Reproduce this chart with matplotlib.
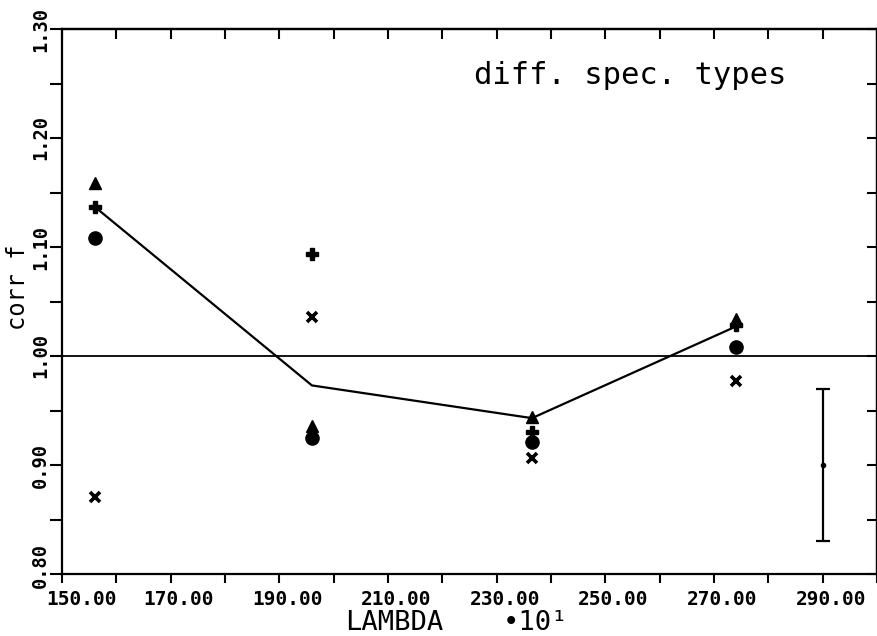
import matplotlib
matplotlib.use("Agg")
import matplotlib.pyplot as plt
import matplotlib.transforms as mtransforms

# ---- data ----
wavelength = [156, 196, 236.5, 274]
tri_vals = [1.159, 0.936, 0.944, 1.034]
plus_vals = [1.137, 1.094, 0.930, 1.028]
circ_vals = [1.108, 0.925, 0.921, 1.008]
cross_vals = [0.871, 1.036, 0.906, 0.977]

line_x = [156, 196, 236.5, 274]
line_y = [1.137, 0.973, 0.943, 1.027]

err_x = [290]
err_y = [0.90]
err_size = [0.07]

xtick_major = [150, 170, 190, 210, 230, 250, 270, 290]
xtick_labels = ["150.00", "170.00", "190.00", "210.00", "230.00", "250.00", "270.00", "290.00"]
xtick_minor = [160, 180, 200, 220, 240, 260, 280, 300]
ytick_major = [0.80, 0.90, 1.00, 1.10, 1.20, 1.30]
ytick_labels = ["0.80", "0.90", "1.00", "1.10", "1.20", "1.30"]
ytick_minor = [0.85, 0.95, 1.05, 1.15, 1.25]

W, H = 878, 636
fig = plt.figure(figsize=(W / 100, H / 100), dpi=100)
L, R, T, B = 62, 877, 29, 574
ax = fig.add_axes([L / W, (H - B) / H, (R - L) / W, (B - T) / H])

ax.set_xlim(150, 300)
ax.set_ylim(0.80, 1.30)

for s in ax.spines.values():
    s.set_linewidth(1.6)
    s.set_color("black")

mono = "DejaVu Sans Mono"

# reference line at 1.0
ax.axhline(1.0, color="black", lw=1.3, zorder=1)

# model line
ax.plot(line_x, line_y, color="black", lw=1.6, zorder=2)

# markers
ax.plot(wavelength, tri_vals, linestyle="none", marker="^", ms=8.5, color="black", zorder=3)
ax.plot(wavelength, plus_vals, linestyle="none", marker="P", ms=8.5, color="black", zorder=3)
ax.plot(wavelength, circ_vals, linestyle="none", marker="o", ms=9.5, color="black", zorder=3)
ax.plot(wavelength, cross_vals, linestyle="none", marker="x", ms=7, mew=2.6, color="black", zorder=3)

# error bar
ax.errorbar(err_x, err_y, yerr=err_size, fmt="o", ms=3, color="black",
            ecolor="black", elinewidth=1.6, capsize=5, capthick=1.6, zorder=3)

# ticks
ax.set_xticks(xtick_major)
ax.set_xticklabels(xtick_labels)
ax.set_xticks(xtick_minor, minor=True)
ax.set_yticks(ytick_major)
ax.set_yticklabels(ytick_labels)
ax.set_yticks(ytick_minor, minor=True)

ax.tick_params(axis="x", which="both", direction="out", length=6.5, width=1.5,
               top=False, pad=5)
ax.tick_params(axis="y", which="both", direction="out", length=8.5, width=1.5,
               right=False, pad=0)
ax.tick_params(axis="x", labelsize=14, labelfontfamily=mono)
ax.tick_params(axis="y", labelsize=13.5, labelfontfamily=mono, labelrotation=90)
for lab in ax.get_xticklabels() + ax.get_yticklabels():
    lab.set_fontweight("bold")
for lab in ax.get_yticklabels():
    lab.set_verticalalignment("center")

# shift tick labels slightly as in the reference
xl = ax.get_xticklabels()
for i, lab in enumerate(xl):
    dx = 20 if i == 0 else 8
    lab.set_transform(lab.get_transform() +
                      mtransforms.ScaledTranslation(dx / 100, 0, fig.dpi_scale_trans))
yl = ax.get_yticklabels()
yl[0].set_transform(yl[0].get_transform() +
                    mtransforms.ScaledTranslation(0, 9 / 100, fig.dpi_scale_trans))

# inward ticks on top and right
secx = ax.secondary_xaxis("top")
secx.set_xticks(xtick_major + xtick_minor)
secx.tick_params(direction="in", length=7, width=1.5, labeltop=False)
secx.spines["top"].set_linewidth(1.6)
secy = ax.secondary_yaxis("right")
secy.set_yticks(ytick_major + ytick_minor)
secy.tick_params(direction="in", length=7, width=1.5, labelright=False)
secy.spines["right"].set_linewidth(1.6)

# annotation
ax.text(254.5, 1.250, "diff. spec. types", family=mono, fontsize=22,
        ha="center", va="baseline", color="black")

# axis labels
fig.text(345 / W, (H - 630) / H, "LAMBDA", family=mono, fontsize=19.5,
         ha="left", va="baseline")
fig.text(503 / W, (H - 630) / H, "•10¹", family=mono, fontsize=19.5,
         ha="left", va="baseline")
fig.text(18 / W, (H - 287) / H, "corr f", family=mono, fontsize=17,
         rotation=90, ha="center", va="center")

fig.savefig("out.png", dpi=100)
